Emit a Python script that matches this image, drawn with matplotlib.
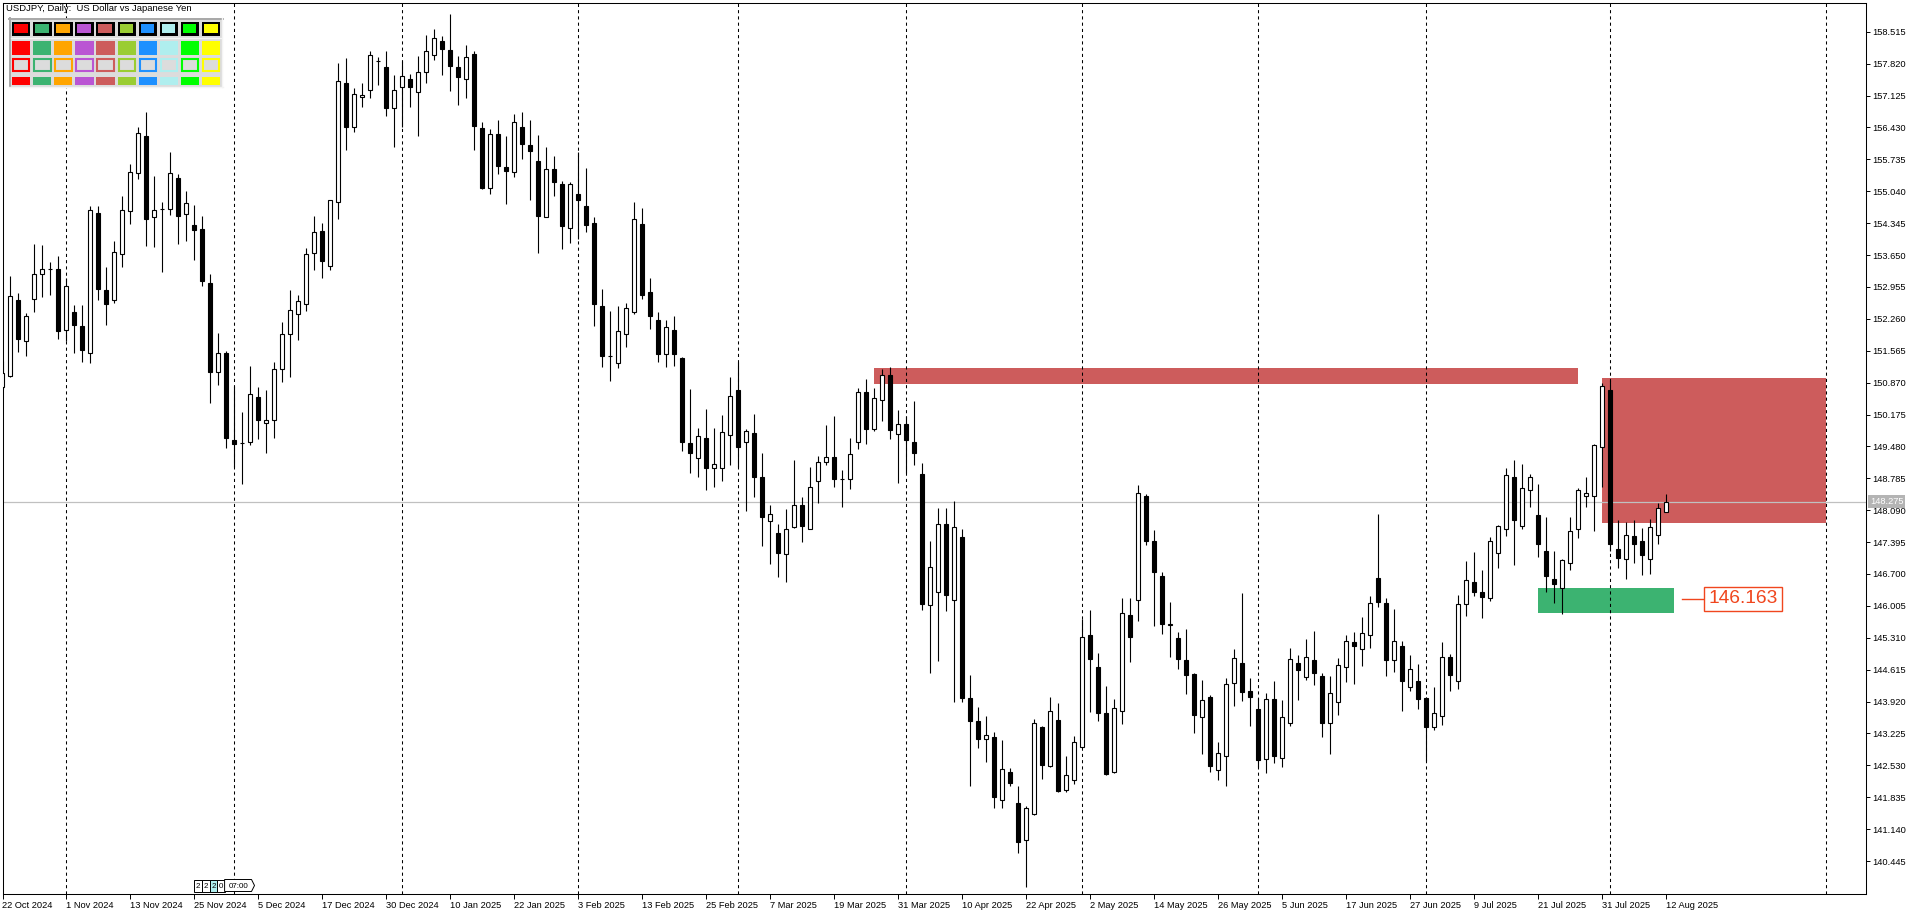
import matplotlib
matplotlib.use("Agg")
import matplotlib.pyplot as plt
import matplotlib.transforms as mtrans
from matplotlib.patches import Rectangle, Polygon

plt.rcParams['font.family'] = ['Liberation Sans', 'DejaVu Sans']

# USDJPY daily candles, bar 0 = 22 Oct 2024, last bar = 12 Aug 2025
opens = [150.77, 151.01, 152.67, 151.77, 152.70, 153.23, 153.35, 153.35, 152.02, 152.41,
         152.10, 151.52, 154.56, 152.88, 152.66, 153.68, 154.60, 155.43, 156.24, 154.49,
         154.66, 154.65, 155.32, 154.54, 154.31, 154.21, 153.04, 151.10, 151.51, 149.62,
         149.55, 149.57, 150.56, 150.00, 150.05, 151.16, 151.92, 152.36, 152.58, 153.69,
         154.17, 153.41, 154.80, 157.39, 156.43, 157.09, 157.24, 157.87, 157.74, 156.86,
         157.31, 157.48, 157.21, 157.63, 158.02, 158.31, 158.12, 157.75, 157.48, 158.03,
         156.41, 155.12, 156.28, 155.58, 155.47, 156.43, 156.04, 155.69, 154.47, 155.52,
         155.19, 154.23, 154.99, 154.71, 154.34, 152.53, 151.44, 151.29, 151.94, 152.40,
         154.33, 152.84, 152.23, 151.49, 152.01, 151.40, 149.56, 149.22, 149.66, 149.00,
         149.02, 149.72, 150.71, 149.57, 149.77, 148.81, 147.85, 147.59, 147.13, 147.72,
         148.20, 147.69, 148.72, 149.13, 149.24, 148.77, 148.76, 149.57, 150.66, 149.87,
         150.50, 151.03, 149.74, 149.96, 149.57, 148.87, 146.02, 146.30, 147.80, 146.14,
         147.50, 144.00, 143.50, 143.10, 143.14, 141.77, 142.39, 141.70, 140.90, 141.46,
         143.36, 142.52, 143.51, 141.99, 142.20, 142.94, 145.36, 144.67, 143.66, 142.39,
         143.71, 145.80, 146.13, 148.40, 147.41, 146.65, 145.59, 145.30, 144.82, 144.52,
         143.58, 144.01, 142.42, 142.73, 144.32, 144.75, 144.16, 143.75, 142.66, 143.97,
         142.68, 143.45, 144.77, 144.45, 144.83, 144.48, 143.46, 143.92, 144.68, 145.21,
         145.06, 145.36, 146.61, 146.06, 144.83, 145.14, 144.24, 144.37, 143.99, 143.36,
         143.60, 144.90, 144.36, 146.04, 146.52, 146.31, 146.17, 147.16, 147.69, 148.81,
         147.74, 148.52, 147.99, 147.21, 146.59, 146.40, 146.93, 147.67, 148.41, 148.41,
         149.46, 150.72, 147.24, 147.02, 147.52, 147.41, 147.02, 147.56, 148.04]
highs = [151.35, 153.19, 152.82, 152.38, 153.89, 153.87, 153.49, 153.63, 153.15, 152.56,
         152.56, 154.71, 154.72, 153.39, 153.96, 154.93, 155.63, 156.44, 156.76, 155.37,
         154.81, 155.90, 155.42, 155.05, 154.74, 154.50, 153.24, 151.96, 151.56, 150.80,
         150.23, 151.23, 150.78, 150.71, 151.33, 152.19, 152.89, 152.78, 153.80, 154.50,
         154.35, 154.85, 157.83, 157.94, 157.28, 157.41, 158.10, 157.96, 158.10, 157.57,
         157.88, 157.60, 157.99, 158.45, 158.58, 158.42, 158.90, 157.99, 158.23, 158.10,
         156.56, 156.40, 156.59, 156.25, 156.72, 156.77, 156.59, 156.27, 156.00, 155.81,
         155.26, 155.24, 155.89, 155.55, 154.47, 152.91, 152.43, 152.54, 152.60, 154.81,
         154.68, 153.15, 152.41, 152.23, 152.32, 151.42, 150.73, 149.89, 150.29, 149.89,
         150.16, 150.99, 151.32, 149.86, 150.19, 149.34, 148.20, 147.79, 148.12, 149.18,
         148.38, 149.03, 149.28, 149.95, 150.14, 148.97, 149.67, 150.75, 150.95, 150.75,
         151.16, 151.21, 150.28, 150.15, 150.47, 149.11, 147.42, 148.14, 148.13, 148.28,
         147.69, 144.50, 143.80, 143.60, 143.26, 143.08, 142.47, 142.09, 141.64, 143.53,
         143.39, 144.01, 143.88, 142.73, 143.16, 145.71, 145.91, 144.97, 144.26, 143.97,
         146.18, 146.18, 148.64, 148.44, 147.66, 146.74, 146.09, 145.43, 145.50, 144.54,
         144.39, 144.06, 143.04, 144.43, 145.07, 146.29, 144.43, 144.00, 144.11, 144.37,
         143.95, 145.09, 144.93, 145.28, 145.46, 144.55, 144.48, 144.86, 145.37, 145.43,
         145.76, 146.23, 148.01, 146.17, 145.93, 145.24, 144.93, 144.73, 144.01, 144.24,
         145.22, 144.96, 146.25, 146.98, 147.18, 146.79, 147.50, 147.77, 149.02, 149.18,
         149.10, 148.88, 148.66, 147.94, 147.20, 147.03, 147.94, 148.57, 148.81, 149.53,
         150.87, 150.93, 147.87, 147.83, 147.88, 147.71, 147.89, 148.24, 148.44]
lows = [150.74, 150.99, 151.53, 151.44, 152.40, 152.74, 152.77, 151.83, 151.78, 151.52,
        151.33, 151.29, 152.67, 152.13, 152.61, 153.40, 154.33, 155.31, 153.85, 153.83,
        153.28, 154.52, 153.89, 153.96, 153.54, 152.98, 150.43, 150.82, 149.45, 149.04,
        148.66, 149.50, 149.64, 149.34, 149.66, 150.89, 151.00, 151.79, 152.44, 153.32,
        153.16, 153.32, 154.44, 155.95, 156.34, 156.88, 157.08, 157.36, 156.69, 156.01,
        156.45, 156.88, 156.25, 157.39, 157.91, 157.58, 157.23, 156.93, 157.08, 155.95,
        155.10, 154.99, 155.42, 154.77, 155.35, 155.74, 154.84, 153.70, 154.47, 154.94,
        153.79, 153.92, 154.01, 154.16, 152.11, 151.22, 150.91, 151.18, 151.64, 152.36,
        152.69, 152.03, 151.33, 151.22, 151.24, 149.39, 148.91, 148.82, 148.54, 148.60,
        148.73, 149.07, 149.04, 148.08, 148.38, 147.30, 146.92, 146.63, 146.52, 147.70,
        147.39, 147.67, 148.24, 149.08, 148.59, 148.17, 148.56, 149.43, 149.54, 149.82,
        150.04, 149.65, 148.69, 148.91, 149.08, 145.91, 144.55, 144.81, 145.90, 143.90,
        143.90, 142.07, 142.90, 142.60, 141.61, 141.59, 142.09, 140.62, 139.88, 141.44,
        142.24, 142.49, 141.94, 141.94, 142.13, 142.90, 143.70, 143.50, 142.33, 142.37,
        143.42, 144.79, 145.68, 147.34, 145.57, 145.39, 144.90, 144.63, 144.08, 143.24,
        142.78, 142.39, 142.20, 142.09, 143.83, 143.93, 143.39, 142.50, 142.36, 142.57,
        142.50, 143.39, 143.95, 144.38, 144.28, 143.15, 142.77, 143.63, 144.35, 144.31,
        144.69, 145.09, 145.99, 144.48, 144.57, 143.72, 144.15, 143.75, 142.63, 143.29,
        143.41, 144.16, 144.20, 145.79, 146.23, 145.73, 146.12, 146.84, 147.53, 146.90,
        147.69, 148.17, 147.08, 146.30, 146.07, 145.83, 146.79, 147.49, 148.15, 147.64,
        148.59, 147.20, 146.84, 146.60, 146.95, 146.67, 146.71, 147.35, 148.04]
closes = [151.07, 152.75, 151.81, 152.32, 153.24, 153.34, 153.34, 152.00, 152.97, 152.13,
          151.59, 154.63, 152.92, 152.59, 153.71, 154.63, 155.45, 156.30, 154.43, 154.63,
          154.65, 155.43, 154.51, 154.78, 154.20, 153.09, 151.11, 151.51, 149.67, 149.54,
          149.56, 150.62, 150.06, 150.05, 151.16, 151.94, 152.45, 152.64, 153.67, 154.15,
          153.53, 154.84, 157.44, 156.45, 157.15, 157.14, 158.02, 157.88, 156.86, 157.24,
          157.55, 157.32, 157.65, 158.09, 158.37, 158.13, 157.76, 157.54, 157.96, 156.47,
          155.12, 156.28, 155.60, 155.49, 156.54, 156.06, 155.92, 154.51, 155.52, 155.25,
          154.29, 155.19, 154.86, 154.31, 152.59, 151.44, 151.45, 151.99, 152.49, 154.43,
          152.77, 152.33, 151.50, 152.08, 151.49, 149.58, 149.33, 149.70, 149.00, 149.09,
          149.79, 150.57, 149.47, 149.81, 148.81, 147.95, 148.00, 147.15, 147.69, 148.20,
          147.75, 148.59, 149.13, 149.24, 148.78, 148.78, 149.31, 150.66, 149.87, 150.53,
          151.03, 149.84, 149.96, 149.61, 149.34, 146.04, 146.86, 147.80, 146.24, 147.72,
          144.00, 143.50, 143.10, 143.20, 141.85, 142.46, 142.14, 140.85, 141.59, 143.45,
          142.53, 143.71, 141.96, 142.33, 143.03, 145.32, 144.84, 143.68, 142.34, 143.79,
          145.86, 145.33, 148.46, 147.42, 146.74, 145.62, 145.60, 144.84, 144.49, 143.63,
          143.95, 142.52, 142.79, 144.30, 144.86, 144.12, 144.03, 142.64, 143.97, 142.74,
          143.58, 144.84, 144.61, 144.89, 144.55, 143.46, 144.10, 144.71, 145.23, 145.12,
          145.41, 146.06, 146.10, 144.83, 145.23, 144.37, 144.64, 143.98, 143.37, 143.66,
          144.90, 144.50, 146.04, 146.56, 146.31, 146.20, 147.41, 147.74, 148.85, 147.87,
          148.57, 148.81, 147.35, 146.65, 146.49, 147.00, 147.63, 148.52, 148.46, 149.50,
          150.79, 147.35, 147.04, 147.54, 147.35, 147.11, 147.72, 148.13, 148.26]

date_labels = ['22 Oct 2024', '1 Nov 2024', '13 Nov 2024', '25 Nov 2024', '5 Dec 2024',
               '17 Dec 2024', '30 Dec 2024', '10 Jan 2025', '22 Jan 2025', '3 Feb 2025',
               '13 Feb 2025', '25 Feb 2025', '7 Mar 2025', '19 Mar 2025', '31 Mar 2025',
               '10 Apr 2025', '22 Apr 2025', '2 May 2025', '14 May 2025', '26 May 2025',
               '5 Jun 2025', '17 Jun 2025', '27 Jun 2025', '9 Jul 2025', '21 Jul 2025',
               '31 Jul 2025', '12 Aug 2025']
date_bars = [0, 8, 16, 24, 32, 40, 48, 56, 64, 72, 80, 88, 96, 104, 112, 120, 128,
             136, 144, 152, 160, 168, 176, 184, 192, 200, 208]
price_labels = ['158.515', '157.820', '157.125', '156.430', '155.735', '155.040', '154.345',
                '153.650', '152.955', '152.260', '151.565', '150.870', '150.175', '149.480',
                '148.785', '148.090', '147.395', '146.700', '146.005', '145.310', '144.615',
                '143.920', '143.225', '142.530', '141.835', '141.140', '140.445']
# month separators (bar index of first bar of each month)
month_bars = [8, 29, 50, 72, 92, 113, 135, 157, 178, 201, 228]

# rectangles drawn on the chart
zone_start = [109, 200, 192]
zone_end = [197, 228, 209]
zone_low = [150.85, 147.81, 145.86]
zone_high = [151.19, 150.97, 146.39]
zone_color = ['#CD5C5C', '#CD5C5C', '#3CB371']

bid = 148.275
level = 146.163

pal_colors = ['#FF0000', '#3CB371', '#FFA500', '#BA55D3', '#CD5C5C',
              '#9ACD32', '#1E90FF', '#AFEEEE', '#00FF00', '#FFFF00']

W, H = 1920, 915
fig = plt.figure(figsize=(W / 100, H / 100), dpi=100)
fig.patch.set_facecolor('white')

# chart frame in pixels
fl, ft, fr, fb = 2.5, 2.5, 1866, 894
ax = fig.add_axes([fl / W, 1 - fb / H, (fr - fl) / W, (fb - ft) / H])
ax.set_xlim((fl - 2.3) / 8, (fr - 2.3) / 8)
ax.set_ylim(139.726, 159.154)
ax.set_facecolor('white')

# zones
for s, e, lo, hi, c in zip(zone_start, zone_end, zone_low, zone_high, zone_color):
    ax.add_patch(Rectangle((s, lo), e - s, hi - lo, facecolor=c, edgecolor='none', zorder=1))

# month separators
for m in month_bars:
    ax.axvline(m, color='black', lw=0.75, linestyle=(0, (3, 3)), zorder=2)

ax.axhline(bid, color='#C0C0C0', lw=0.9, zorder=2.2)

# candles
idx = list(range(len(opens)))
ax.vlines(idx, lows, highs, color='black', lw=0.8, zorder=3)
bottoms = [min(o, c) for o, c in zip(opens, closes)]
heights = [abs(c - o) for o, c in zip(opens, closes)]
colors = ['white' if c > o else 'black' for o, c in zip(opens, closes)]
ax.bar(idx, heights, 0.5, bottoms, color=colors, edgecolor='black', linewidth=0.8, zorder=4)

# level label 146.163
lc = '#F0461E'
ax.plot([209.96, 212.7], [level, level], color=lc, lw=1.0, zorder=5)
ax.add_patch(Rectangle((212.7, 145.89), 9.75, 0.535, facecolor='white', edgecolor=lc, lw=1.0, zorder=5))
ax.text(217.6, level, '146.163', color=lc, fontsize=13.8, ha='center', va='center', zorder=6)

# axes styling
for sp in ax.spines.values():
    sp.set_linewidth(0.75)
    sp.set_color('black')
ax.yaxis.tick_right()
ax.set_yticks([float(p) for p in price_labels], price_labels)
ax.tick_params(axis='y', length=3, width=0.7, pad=1.5, labelsize=6.7, direction='out')
ax.set_xticks(date_bars, date_labels)
for lab in ax.get_xticklabels():
    lab.set_ha('left')
ax.tick_params(axis='x', length=3.8, width=0.7, pad=1.2, labelsize=6.7, direction='out')

# bid price label on the scale
blend = mtrans.blended_transform_factory(ax.transAxes, ax.transData)
ax.text(1.0022, bid, '148.275', transform=blend, color='white', fontsize=6.7,
        ha='left', va='center', zorder=7,
        bbox=dict(facecolor='#B4B4B4', edgecolor='none', pad=1.3))

# overlay in pixel coordinates for the terminal decorations
ov = fig.add_axes([0, 0, 1, 1], zorder=10)
ov.set_xlim(0, W)
ov.set_ylim(H, 0)
ov.axis('off')

ov.text(6.5, 4, 'USDJPY, Daily:  US Dollar vs Japanese Yen', fontsize=6.8, ha='left', va='top')

# colour palette panel
ov.add_patch(Rectangle((9.3, 18.3), 213.4, 69, facecolor='#DCDCDC', edgecolor='none'))
ov.plot([9.3, 222.7], [19.2, 19.2], color='#A8A8A8', lw=1.4)
ov.plot([10.1, 10.1], [18.3, 87.3], color='#A8A8A8', lw=1.4)
ov.plot([222.2, 222.2], [18.3, 87.3], color='#F4F4F4', lw=1.0)
ov.plot([9.3, 222.7], [86.8, 86.8], color='#F4F4F4', lw=1.0)
ov.plot([11, 221], [38.4, 38.4], color='#F4F4F4', lw=1.0)
for k, c in enumerate(pal_colors):
    x = 12 + 21.1 * k
    ov.add_patch(Rectangle((x, 21.7), 18.4, 14.3, facecolor='black', edgecolor='none'))
    ov.add_patch(Rectangle((x + 2, 23.5), 13.6, 9.6, facecolor=c, edgecolor='none'))
    ov.add_patch(Rectangle((x, 40.7), 18.2, 14.3, facecolor=c, edgecolor='none'))
    ov.add_patch(Rectangle((x + 1, 58.7), 16.4, 12.6, facecolor='#DCDCDC', edgecolor=c, lw=1.5))
    ov.add_patch(Rectangle((x, 77), 18.2, 8, facecolor=c, edgecolor='none'))

# small timer boxes near the time scale
tb_edges = [194.2, 202.2, 209.8, 217.4, 224.6]
tb_text = ['2', '2', '2', '0']
for k in range(4):
    fc = '#AFEEEE' if k == 2 else 'white'
    ov.add_patch(Rectangle((tb_edges[k], 879.5), tb_edges[k + 1] - tb_edges[k], 12,
                           facecolor=fc, edgecolor='black', lw=0.7))
    ov.text((tb_edges[k] + tb_edges[k + 1]) / 2, 886, tb_text[k], fontsize=5.8,
            ha='center', va='center')
ov.add_patch(Polygon([(224.6, 879.5), (251.5, 879.5), (254.5, 885.5), (251.5, 891.5),
                      (224.6, 891.5)], closed=True, facecolor='white', edgecolor='black', lw=0.7))
ov.text(238.5, 886, '07:00', fontsize=5.8, ha='center', va='center')

fig.savefig('out.png', dpi=100, facecolor='white')
